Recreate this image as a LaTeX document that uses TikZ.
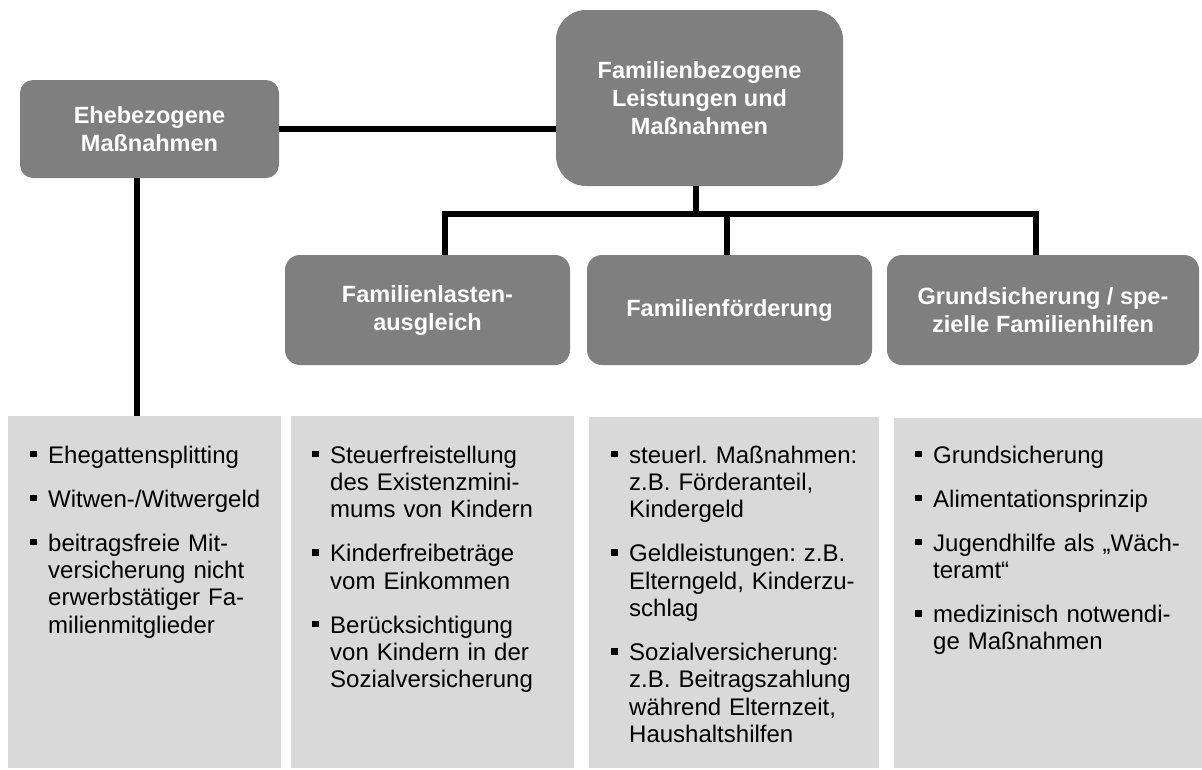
\documentclass[tikz,border=0pt]{standalone}
\usepackage{fontspec}
\setmainfont{Liberation Sans}
\definecolor{hgray}{HTML}{7F7F7F}
\definecolor{pgray}{HTML}{D9D9D9}
\newcommand{\hfont}{\fontsize{23.5}{28}\selectfont\bfseries}
\newcommand{\bfont}{\fontsize{24}{27.3}\selectfont\frenchspacing}
\newcommand{\bitem}[1]{\par\hangindent=18pt\hangafter=1\noindent\makebox[18pt][l]{\raisebox{6pt}{\rule{6.5pt}{6.5pt}}}#1\par}
\newcommand{\itemgap}{\setlength{\parskip}{16.7pt}}
\newcommand{\nl}{\newline}
\begin{document}
\begin{tikzpicture}[x=1pt,y=-1pt,
  hbox/.style={fill=hgray, text=white, font=\hfont, align=center, inner sep=0pt},
  panel/.style={fill=pgray, inner sep=0pt},
  conn/.style={line width=6pt, line join=miter},
  list/.style={anchor=base west, inner sep=0pt, text width=265pt, align=left, font=\bfont}]
\path[use as bounding box] (0,0) rectangle (1202,769);

% header boxes
\node[hbox, rounded corners=13pt, minimum width=259pt, minimum height=98pt] (ehe) at (149.5,129) {Ehebezogene\\Maßnahmen};
\node[hbox, rounded corners=30pt, minimum width=287pt, minimum height=176pt] (top) at (699.5,98) {Familienbezogene\\Leistungen und\\Maßnahmen};
\node[hbox, rounded corners=15pt, minimum width=285pt, minimum height=110pt] (lasten) at (427.5,310) {Familienlasten-\\ausgleich};
\node[hbox, rounded corners=15pt, minimum width=285pt, minimum height=110pt] (foerd) at (729.5,310) {Familienförderung};
\node[hbox, rounded corners=15pt, minimum width=312pt, minimum height=110pt] (grund) at (1043,310) {Grundsicherung / spe-\\zielle Familienhilfen};

% panels
\node[panel, minimum width=273pt, minimum height=352pt] (p1) at (144.5,592) {};
\node[panel, minimum width=283pt, minimum height=352pt] (p2) at (432.5,592) {};
\node[panel, minimum width=290pt, minimum height=351pt] (p3) at (734,592.5) {};
\node[panel, minimum width=308pt, minimum height=350pt] (p4) at (1048,593) {};

% connectors
\draw[conn] (ehe.east) -- (ehe.east -| top.west);
\draw[conn] ([xshift=-12.5pt]ehe.south) -- ([xshift=-12.5pt]ehe.south |- p1.north);
\coordinate (bus) at (696,214);
\coordinate (busL) at (445,214);
\coordinate (busM) at (727,214);
\coordinate (busR) at (1036,214);
\draw[conn] ([xshift=-3.5pt]top.south) -- (bus);
\draw[conn] (busL |- lasten.north) -- (busL) -- (busR) -- (busR |- grund.north);
\draw[conn] (busM) -- (busM |- foerd.north);

% lists
\node[list] (l1) at (30,436) {%
\bitem{Ehegattensplitting}\itemgap
\bitem{Witwen-/Witwergeld}
\bitem{beitragsfreie Mit-\nl versicherung nicht\nl erwerbstätiger Fa-\nl milienmitglieder}};
\node[list] (l2) at (312,436) {%
\bitem{Steuerfreistellung\nl des Existenzmini-\nl mums von Kindern}\itemgap
\bitem{Kinderfreibeträge\nl vom Einkommen}
\bitem{Berücksichtigung\nl von Kindern in der\nl Sozialversicherung}};
\node[list] (l3) at (611,436) {%
\bitem{steuerl. Maßnahmen:\nl z.B. Förderanteil,\nl Kindergeld}\itemgap
\bitem{Geldleistungen: z.B.\nl Elterngeld, Kinderzu-\nl schlag}
\bitem{Sozialversicherung:\nl z.B. Beitragszahlung\nl während Elternzeit,\nl Haushaltshilfen}};
\node[list] (l4) at (915,436) {%
\bitem{Grundsicherung}\itemgap
\bitem{Alimentationsprinzip}
\bitem{Jugendhilfe als „Wäch-\nl teramt“}
\bitem{medizinisch notwendi-\nl ge Maßnahmen}};
\end{tikzpicture}
\end{document}
